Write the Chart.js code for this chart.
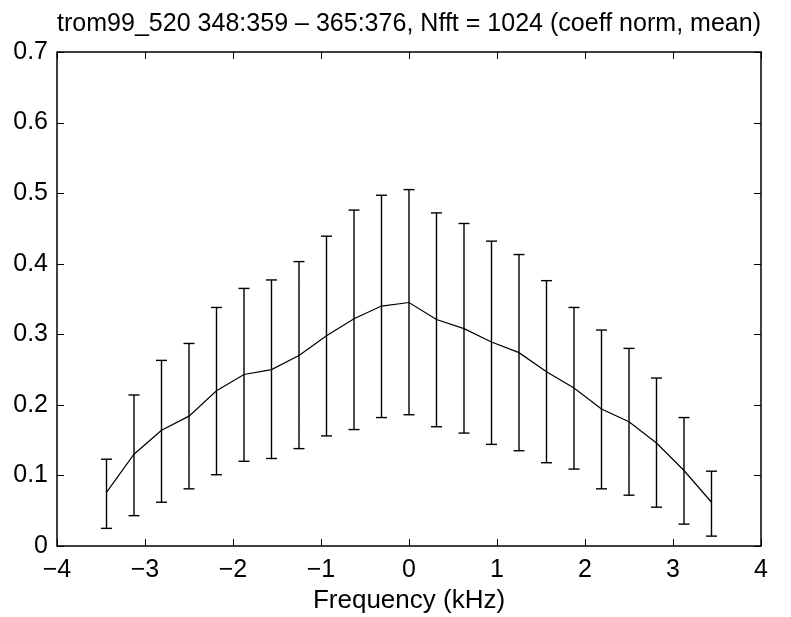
<!DOCTYPE html>
<html>
<head>
<meta charset="utf-8">
<script src="https://cdn.jsdelivr.net/npm/chart.js@4/dist/chart.umd.min.js"></script>
<style>
  html, body { margin: 0; padding: 0; background: #fff; }
  #wrap { width: 791px; height: 617px; }
</style>
</head>
<body>
<div id="wrap"><canvas id="errplot"></canvas></div>
<script>
// frequency bins (kHz)
const freq = [-3.4375, -3.125, -2.8125, -2.5, -2.1875, -1.875, -1.5625, -1.25, -0.9375, -0.625, -0.3125, 0,
              0.3125, 0.625, 0.9375, 1.25, 1.5625, 1.875, 2.1875, 2.5, 2.8125, 3.125, 3.4375];
// mean coefficient
const meanVals = [0.076, 0.130, 0.164, 0.184, 0.220, 0.243, 0.250, 0.270, 0.298, 0.322, 0.340, 0.345,
                  0.321, 0.308, 0.289, 0.274, 0.247, 0.224, 0.194, 0.176, 0.146, 0.107, 0.062];
// error bar ends
const upperVals = [0.123, 0.214, 0.263, 0.287, 0.338, 0.365, 0.377, 0.403, 0.439, 0.476, 0.497, 0.505,
                   0.472, 0.457, 0.432, 0.413, 0.376, 0.338, 0.306, 0.280, 0.238, 0.182, 0.106];
const lowerVals = [0.025, 0.043, 0.062, 0.081, 0.101, 0.120, 0.124, 0.138, 0.156, 0.165, 0.182, 0.186,
                   0.169, 0.160, 0.144, 0.135, 0.118, 0.109, 0.081, 0.072, 0.055, 0.031, 0.014];
const xTicks = [-4, -3, -2, -1, 0, 1, 2, 3, 4];
const yTicks = [0, 0.1, 0.2, 0.3, 0.4, 0.5, 0.6, 0.7];

Chart.defaults.font.family = '"Liberation Sans", Arial, sans-serif';
Chart.defaults.color = '#000';

const meanPts = freq.map((f, i) => ({x: f, y: meanVals[i]}));
const whiskers = [];
const caps = [];
freq.forEach((f, i) => {
    whiskers.push({x: f, y: lowerVals[i]}, {x: f, y: upperVals[i]}, {x: f, y: null});
    caps.push({x: f, y: lowerVals[i]}, {x: f, y: upperVals[i]});
});

// matlab style box with inward ticks
const boxPlugin = {
    id: 'box',
    afterDraw(chart) {
        const {ctx, chartArea: a, scales: {x, y}} = chart;
        ctx.save();
        ctx.strokeStyle = '#000';
        ctx.lineWidth = 1;
        ctx.beginPath();
        xTicks.forEach(v => {
            const px = Math.round(x.getPixelForValue(v)) + 0.5;
            ctx.moveTo(px, a.bottom); ctx.lineTo(px, a.bottom - 7);
            ctx.moveTo(px, a.top); ctx.lineTo(px, a.top + 7);
        });
        yTicks.forEach(v => {
            const py = Math.round(y.getPixelForValue(v)) + 0.5;
            ctx.moveTo(a.left, py); ctx.lineTo(a.left + 7, py);
            ctx.moveTo(a.right, py); ctx.lineTo(a.right - 7, py);
        });
        ctx.stroke();
        ctx.lineWidth = 1.5;
        ctx.strokeRect(a.left, a.top, a.right - a.left, a.bottom - a.top);
        ctx.restore();
    }
};

new Chart(document.getElementById('errplot'), {
    type: 'line',
    data: {
        datasets: [
            {
                data: meanPts,
                borderColor: '#000',
                borderWidth: 1.2,
                pointRadius: 0,
                tension: 0
            },
            {
                data: whiskers,
                borderColor: '#000',
                borderWidth: 1.4,
                pointRadius: 0,
                spanGaps: false
            },
            {
                data: caps,
                showLine: false,
                borderColor: '#000',
                borderWidth: 1.4,
                pointStyle: 'line',
                pointRadius: 5.5
            }
        ]
    },
    options: {
        responsive: true,
        maintainAspectRatio: false,
        animation: false,
        events: [],
        layout: { padding: { left: 0, right: 30, top: 0, bottom: 0 } },
        plugins: {
            legend: { display: false },
            tooltip: { enabled: false }
        },
        scales: {
            x: {
                type: 'linear',
                min: -4,
                max: 4,
                afterBuildTicks: s => { s.ticks = xTicks.map(v => ({value: v})); },
                afterFit: s => { s.height = 71; },
                grid: { display: false, drawTicks: false },
                border: { display: false },
                ticks: {
                    font: { size: 25 },
                    padding: 9,
                    maxRotation: 0,
                    callback: v => String(v).replace('-', '\u2212')
                },
                title: {
                    display: true,
                    text: 'Frequency (kHz)',
                    font: { size: 26 },
                    padding: { top: 0, bottom: 1 }
                }
            },
            // top axis only carries the plot title, centred over the axes box
            x2: {
                type: 'linear',
                position: 'top',
                min: -4,
                max: 4,
                afterFit: s => { s.height = 52; },
                grid: { display: false, drawTicks: false },
                border: { display: false },
                ticks: { display: false },
                title: {
                    display: true,
                    text: 'trom99_520 348:359 \u2013 365:376, Nfft = 1024 (coeff norm, mean)',
                    font: { size: 26.5 },
                    padding: { top: 8, bottom: 0 }
                }
            },
            y: {
                type: 'linear',
                min: 0,
                max: 0.7,
                afterBuildTicks: s => { s.ticks = yTicks.map(v => ({value: v})); },
                afterFit: s => { s.width = 57; },
                grid: { display: false, drawTicks: false },
                border: { display: false },
                ticks: {
                    font: { size: 25 },
                    padding: 9,
                    callback: v => String(Math.round(v * 10) / 10)
                }
            }
        }
    },
    plugins: [boxPlugin]
});
</script>
</body>
</html>
